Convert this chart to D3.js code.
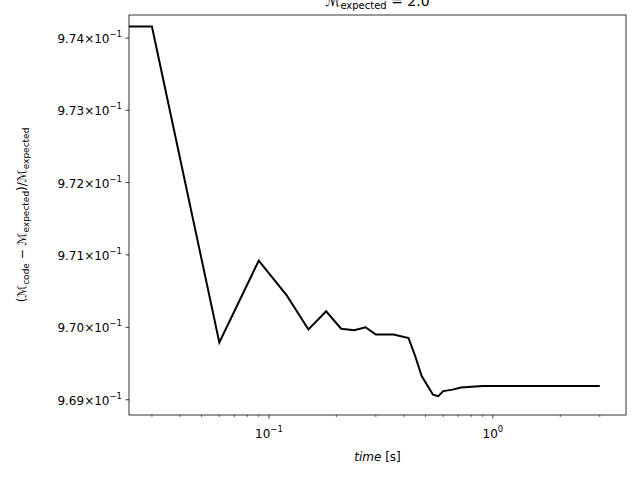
<!DOCTYPE html>
<html>
<head>
<meta charset="UTF-8">
<script src="https://d3js.org/d3.v7.min.js"></script>
<style>
body { margin: 0; background: #fff; }
text { font-family: "DejaVu Sans", sans-serif; }
</style>
</head>
<body>
<script>
// time [s] and relative error values
var times = [0.0237, 0.03, 0.06, 0.09, 0.12, 0.15, 0.18, 0.21, 0.24, 0.27, 0.30, 0.36, 0.42,
             0.45, 0.48, 0.54, 0.57, 0.60, 0.66, 0.72, 0.9, 1.0, 3.0];
var errors = [0.97416, 0.97416, 0.96979, 0.97092, 0.97044, 0.96997, 0.97022, 0.96998, 0.96996,
              0.97000, 0.96990, 0.96990, 0.96985, 0.96960, 0.96933, 0.96907, 0.96905, 0.96912,
              0.96914, 0.96917, 0.96919, 0.96919, 0.96919];
var yTicks = [0.969, 0.970, 0.971, 0.972, 0.973, 0.974];
var yTickLabels = ["9.69", "9.70", "9.71", "9.72", "9.73", "9.74"];

var width = 640, height = 480;
var mLeft = 129, mRight = 626, mTop = 15, mBottom = 415;

var svg = d3.select("body").append("svg").attr("width", width).attr("height", height);

var x = d3.scaleLog().domain([0.0237, 3.93]).range([mLeft, mRight]);
var y = d3.scaleLog().domain([0.96879, 0.97432]).range([mBottom, mTop]);

// x axis
var major = [0.1, 1];
var minor = [];
[0.01, 0.1, 1].forEach(function(d) {
    for (var k = 2; k < 10; k++) {
        var v = d * k;
        if (v >= 0.0237 && v <= 3.93) minor.push(v);
    }
});
var gx = svg.append("g").attr("transform", "translate(0," + mBottom + ")");
gx.selectAll(".mn").data(minor).enter().append("line")
    .attr("x1", x).attr("x2", x).attr("y1", 0).attr("y2", 2)
    .attr("stroke", "#000").attr("stroke-width", 0.6);
gx.selectAll(".mj").data(major).enter().append("line")
    .attr("x1", x).attr("x2", x).attr("y1", 0).attr("y2", 3.5)
    .attr("stroke", "#000").attr("stroke-width", 0.8);
var xl = gx.selectAll(".xl").data(major).enter().append("text")
    .attr("x", x).attr("y", 23).attr("text-anchor", "middle").attr("font-size", 12);
xl.append("tspan").text("10");
xl.append("tspan").attr("dy", -6).attr("font-size", 8.5).text(function(d) { return d === 1 ? "0" : "\u22121"; });

// y axis
var gy = svg.append("g");
gy.selectAll("line").data(yTicks).enter().append("line")
    .attr("x1", mLeft - 3.5).attr("x2", mLeft).attr("y1", y).attr("y2", y)
    .attr("stroke", "#000").attr("stroke-width", 0.8);
var yl = gy.selectAll("text").data(yTicks).enter().append("text")
    .attr("x", mLeft - 7).attr("y", function(d) { return y(d) + 5; })
    .attr("text-anchor", "end").attr("font-size", 12);
yl.append("tspan").text(function(d, i) { return yTickLabels[i] + "\u00d710"; });
yl.append("tspan").attr("dy", -6).attr("font-size", 8.5).text("\u22121");

// frame
svg.append("rect").attr("x", mLeft).attr("y", mTop)
    .attr("width", mRight - mLeft).attr("height", mBottom - mTop)
    .attr("fill", "none").attr("stroke", "#000").attr("stroke-width", 0.8);

// line
var pts = times.map(function(t, i) { return [t, errors[i]]; });
svg.append("path").datum(pts)
    .attr("d", d3.line().x(function(d) { return x(d[0]); }).y(function(d) { return y(d[1]); }))
    .attr("fill", "none").attr("stroke", "#000").attr("stroke-width", 2);

// labels
var xt = svg.append("text").attr("x", (mLeft + mRight) / 2).attr("y", 461)
    .attr("text-anchor", "middle").attr("font-size", 12);
xt.append("tspan").attr("font-style", "italic").text("time");
xt.append("tspan").text(" [s]");

var yt = svg.append("text").attr("transform", "translate(26," + (mTop + mBottom) / 2 + ") rotate(-90)")
    .attr("text-anchor", "middle").attr("font-size", 12);
yt.append("tspan").text("(");
yt.append("tspan").attr("font-style", "italic").text("\u2133");
yt.append("tspan").attr("font-size", 9).attr("dy", 3).text("code");
yt.append("tspan").attr("dy", -3).text(" \u2212 ");
yt.append("tspan").attr("font-style", "italic").text("\u2133");
yt.append("tspan").attr("font-size", 9).attr("dy", 3).text("expected");
yt.append("tspan").attr("dy", -3).text(")/");
yt.append("tspan").attr("font-style", "italic").text("\u2133");
yt.append("tspan").attr("font-size", 9).attr("dy", 3).text("expected");

var tt = svg.append("text").attr("x", (mLeft + mRight) / 2).attr("y", 6)
    .attr("text-anchor", "middle").attr("font-size", 14);
tt.append("tspan").attr("font-style", "italic").text("\u2133");
tt.append("tspan").attr("font-size", 10).attr("dy", 3).text("expected");
tt.append("tspan").attr("dy", -3).text(" = 2.0");
</script>
</body>
</html>
